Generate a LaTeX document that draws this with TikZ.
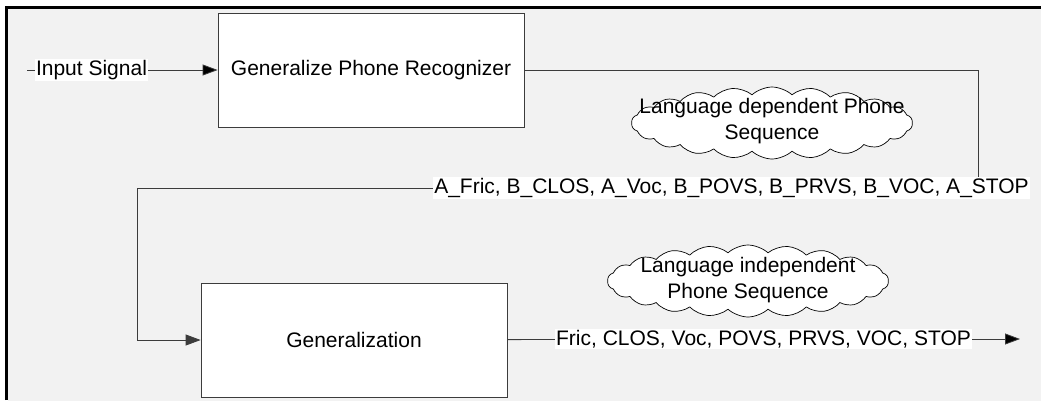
\documentclass[tikz,border=0pt]{standalone}
\usepackage{fontspec}
\setmainfont{Liberation Sans}
\usetikzlibrary{arrows.meta,shapes.symbols,positioning}

\definecolor{bgblue}{RGB}{218,234,241}
\definecolor{bggray}{RGB}{242,242,242}
\definecolor{linegray}{RGB}{60,60,60}

\begin{document}
\begin{tikzpicture}[x=1pt,y=-1pt,
        every node/.style={font=\fontsize{21}{26}\selectfont},
        box/.style={draw=linegray,fill=white,line width=0.8pt,minimum width=306pt,minimum height=114pt},
        lbl/.style={fill=white,inner sep=1pt},
        puff/.style={cloud,draw=black,fill=white,line width=0.7pt,cloud puffs=22,cloud puff arc=85,cloud ignores aspect,minimum width=281pt,minimum height=72pt},
        conn/.style={draw=linegray,line width=0.8pt},
        tip/.style={-{Triangle[length=15pt,width=11pt]}}]
        \useasboundingbox (0,0) rectangle (1041,400);
        \fill[left color=bggray,middle color=bgblue,right color=bggray] (8,8) rectangle (1041,400);
        \draw[line width=3pt] (6.5,400) -- (6.5,7) -- (1041,7);

        \node[box] at (371,70)(rec){Generalize Phone Recognizer};
        \node[box] at (354,340)(gen){Generalization};
        \node[lbl] at (91.5,70)(insig){Input Signal};
        \coordinate (start) at (27,70);
        \node[lbl] at (731.5,188)(seqa){A\_Fric, B\_CLOS, A\_Voc, B\_POVS, B\_PRVS, B\_VOC, A\_STOP};
        \node[lbl] at (763.5,339)(seqb){Fric, CLOS, Voc, POVS, PRVS, VOC, STOP};
        \coordinate (out) at (1020,339);
        \node[puff] at (772,123)(clda){};
        \node[align=center,inner sep=0pt] at (772,121)(txta){Language dependent Phone\\Sequence};
        \node[puff] at (748,281)(cldb){};
        \node[align=center,inner sep=0pt] at (748,280)(txtb){Language independent\\Phone Sequence};

        \path[conn]
        (start) edge (insig)
        (insig) edge[tip] (rec)
        (gen) edge (seqb)
        (seqb) edge[tip] (out)
        ;
        \draw[conn] (rec.east) -| ([xshift=246.5pt]seqa.north);
        \draw[conn,tip] (seqa.west) -| ++(-296,0) |- (gen.west);
    \end{tikzpicture}
\end{document}
